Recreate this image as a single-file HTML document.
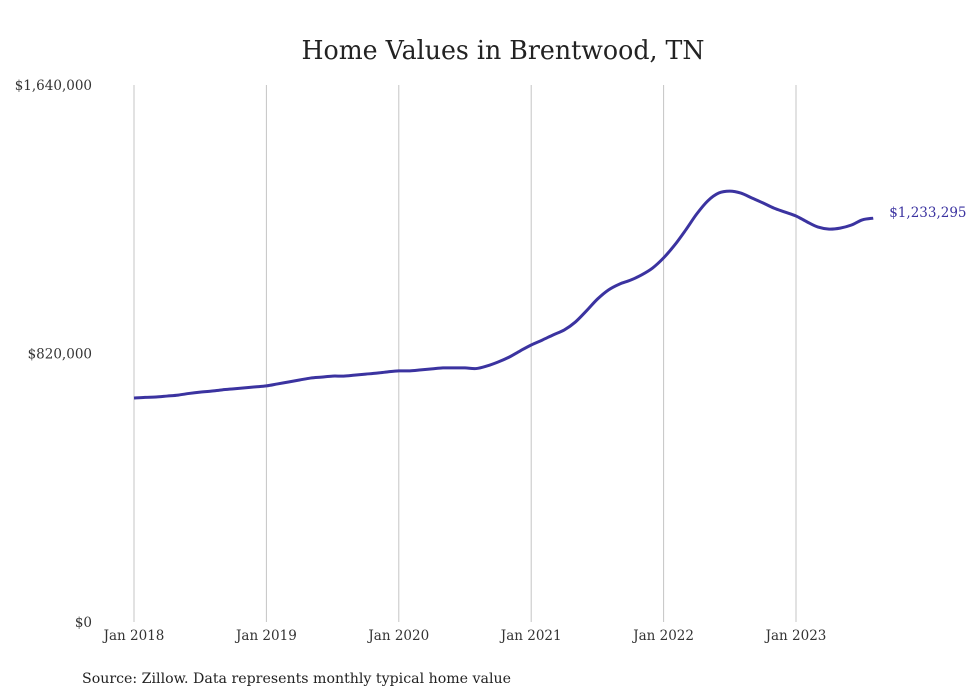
<!DOCTYPE html>
<html><head><meta charset="utf-8"><style>
body{margin:0;background:#fff;}
svg{display:block;font-family:"DejaVu Serif","Liberation Serif",serif;}
</style></head><body>
<svg id="chart" width="980" height="699">
<text x="503" y="59" text-anchor="middle" font-size="26" fill="#222" textLength="403" lengthAdjust="spacingAndGlyphs">Home Values in Brentwood, TN</text>
<g id="grid"></g><g id="yaxis"></g><g id="xaxis"></g><g id="series"></g>
<text x="82" y="683" font-size="14" fill="#222" textLength="429" lengthAdjust="spacingAndGlyphs">Source: Zillow. Data represents monthly typical home value</text>
</svg>
<script>
const xTickLabels=["Jan 2018","Jan 2019","Jan 2020","Jan 2021","Jan 2022","Jan 2023"];
const yTicks=[0,820000,1640000];
const yTickLabels=["$0","$820,000","$1,640,000"];
const values=[684000,686000,687000,690000,693000,698000,702000,705000,709000,712000,715000,718000,
721000,727000,733000,739000,745000,748000,751000,751000,754000,757000,760000,764000,
767000,767000,770000,773000,776000,776000,776000,774000,782000,794000,809000,828000,
846000,861000,877000,892000,916000,950000,986000,1014000,1032000,1044000,1060000,1081000,
1112000,1151000,1197000,1246000,1286000,1310000,1316000,1310000,1295000,1280000,1264000,1252000,
1240000,1222000,1206000,1200000,1203000,1212000,1228000,1233295];
const lastLabel="$1,233,295";
const NS="http://www.w3.org/2000/svg";
const x0=134,monthW=132.4/12,yBase=622,yTop=85,yMax=1640000;
const X=i=>x0+i*monthW;
const Y=v=>yBase-(v/yMax)*(yBase-yTop);
function mk(t,a,p){const e=document.createElementNS(NS,t);for(const k in a)e.setAttribute(k,a[k]);p.appendChild(e);return e;}
const grid=document.getElementById('grid'),xa=document.getElementById('xaxis'),ya=document.getElementById('yaxis'),se=document.getElementById('series');
xTickLabels.forEach((l,i)=>{
 const x=X(i*12);
 const g=mk('line',{x1:x,x2:x,y1:yTop,y2:yBase,stroke:'#c4c4c4','stroke-width':1},grid);
 
 
 const t=mk('text',{x:x,y:640,'text-anchor':'middle','font-size':13.5,fill:'#333'},xa);
 t.textContent=l;
 
 
});
yTicks.forEach((v,i)=>{
 const t=mk('text',{x:92,y:Y(v)+5,'text-anchor':'end','font-size':13.5,fill:'#333'},ya);
 t.textContent=yTickLabels[i];
 
 
});
const pts=values.map((v,i)=>[X(i),Y(v)]);
let d='M'+pts[0][0]+','+pts[0][1];
for(let i=1;i<pts.length;i++){
 const p0=pts[Math.max(0,i-2)],p1=pts[i-1],p2=pts[i],p3=pts[Math.min(pts.length-1,i+1)];
 const c1=[p1[0]+(p2[0]-p0[0])/6,p1[1]+(p2[1]-p0[1])/6],c2=[p2[0]-(p3[0]-p1[0])/6,p2[1]-(p3[1]-p1[1])/6];
 d+=' C'+c1+' '+c2+' '+p2;
}
const line=mk('path',{d:d,fill:'none',stroke:'#3b33a0','stroke-width':3,'stroke-linejoin':'round'},se);


const last=pts[pts.length-1];
const lt=mk('text',{x:last[0]+16,y:last[1]-1,'font-size':13.5,fill:'#3b33a0'},se);
lt.textContent=lastLabel;


</script>
</body></html>
